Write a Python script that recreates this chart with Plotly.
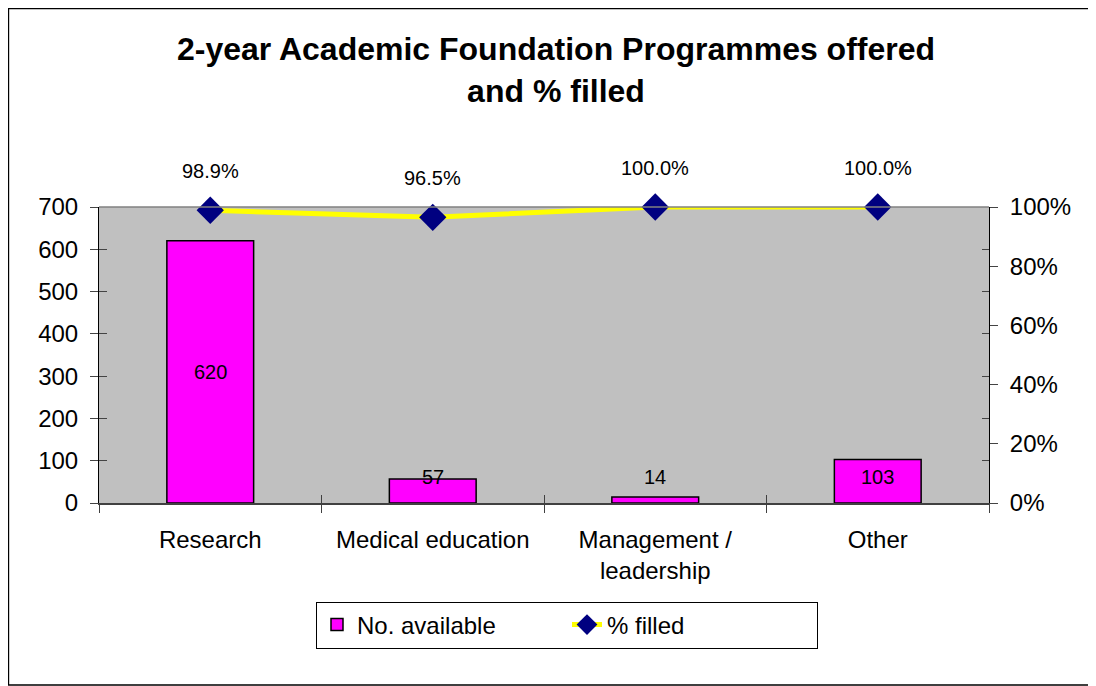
import plotly.graph_objects as go

categories = ["Research", "Medical education", "Management /<br>leadership", "Other"]
available = [620, 57, 14, 103]
pct_filled = [0.989, 0.965, 1.0, 1.0]

W, H = 1088, 678          # page adds an 8px body margin
ml, mr, mt, mb = 91, 107, 199, 183
pw, ph = W - ml - mr, H - mt - mb

fig = go.Figure()
fig.add_trace(go.Bar(
    x=categories, y=available, name="No. available",
    marker=dict(color="#FF00FF", line=dict(color="black", width=1.5)),
    width=0.39,
))
fig.add_trace(go.Scatter(
    x=categories, y=pct_filled, name="% filled", yaxis="y2",
    mode="lines+markers", cliponaxis=False,
    line=dict(color="#FFFF00", width=5),
    marker=dict(symbol="diamond", size=21, color="#000080"),
))
# invisible helpers so the crossing (inside) tick marks get drawn
fig.add_trace(go.Scatter(x=categories, y=[None] * len(categories), xaxis="x2", yaxis="y3",
                         showlegend=False, hoverinfo="skip", mode="markers"))
fig.add_trace(go.Scatter(x=categories, y=[None] * len(categories), xaxis="x2", yaxis="y4",
                         showlegend=False, hoverinfo="skip", mode="markers"))

for c, v in zip(categories, available):
    fig.add_annotation(x=c, y=max(v / 2, 62), text=str(v), showarrow=False,
                       font=dict(size=20, color="black"), yref="y")
for c, p in zip(categories, pct_filled):
    fig.add_annotation(x=c, y=p, yref="y2", text=f"{p*100:.1f}%", showarrow=False,
                       yshift=39, font=dict(size=20, color="black"))

fig.add_shape(type="rect", xref="paper", yref="paper",
              x0=-ml / pw + 0.0005, x1=1 + (mr - 2) / pw,
              y0=-(mb - 1) / ph, y1=1 + (mt - 0.5) / ph,
              line=dict(color="black", width=1.5), fillcolor="rgba(0,0,0,0)", layer="below")
fig.add_shape(type="line", xref="paper", yref="paper", x0=0, x1=1, y0=1, y1=1,
              line=dict(color="#808080", width=1.5))

tick_font = dict(size=24, color="black")
fig.update_layout(
    width=W, height=H,
    margin=dict(l=ml, r=mr, t=mt, b=mb),
    paper_bgcolor="white", plot_bgcolor="#C0C0C0",
    font=dict(family="Liberation Sans, Arial, sans-serif", size=24, color="black"),
    title=dict(text="<b>2-year Academic Foundation Programmes offered<br>and % filled</b>",
               x=548 / W, xref="container", xanchor="center",
               y=1 - 52 / H, yref="container", yanchor="middle",
               font=dict(size=32, color="black")),
    showlegend=True,
    legend=dict(orientation="h", x=(567 - 99) / pw, xanchor="center",
                y=-(625 - 503) / ph, yanchor="middle",
                bordercolor="black", borderwidth=1, bgcolor="white",
                font=dict(size=24), entrywidth=205, traceorder="normal"),
    xaxis=dict(showline=True, linecolor="#404040", linewidth=1.5, ticks="outside",
               tickson="boundaries", ticklen=8, tickcolor="#404040", showgrid=False,
               tickfont=tick_font, ticklabelstandoff=14),
    xaxis2=dict(overlaying="x", matches="x", showline=False, ticks="inside", tickson="boundaries",
                ticklen=8, tickcolor="#404040", showticklabels=False, showgrid=False),
    yaxis=dict(range=[0, 700], dtick=100, showline=True, linecolor="black", linewidth=1,
               ticks="outside", ticklen=8, showgrid=False, zeroline=False,
               tickfont=tick_font, ticklabelstandoff=7),
    yaxis2=dict(range=[0, 1], dtick=0.2, tickformat=".0%", overlaying="y", side="right",
                showline=True, linecolor="black", linewidth=1, ticks="outside", ticklen=8,
                showgrid=False, zeroline=False, tickfont=tick_font, ticklabelstandoff=7),
    yaxis3=dict(range=[0, 700], dtick=100, overlaying="y", side="left", ticks="inside",
                ticklen=8, showticklabels=False, showgrid=False, zeroline=False, showline=False),
    yaxis4=dict(range=[0, 700], dtick=100, overlaying="y", side="right", ticks="inside",
                ticklen=7, showticklabels=False, showgrid=False, zeroline=False, showline=False),
    bargap=0.61,
)

fig.write_html("out.html")
